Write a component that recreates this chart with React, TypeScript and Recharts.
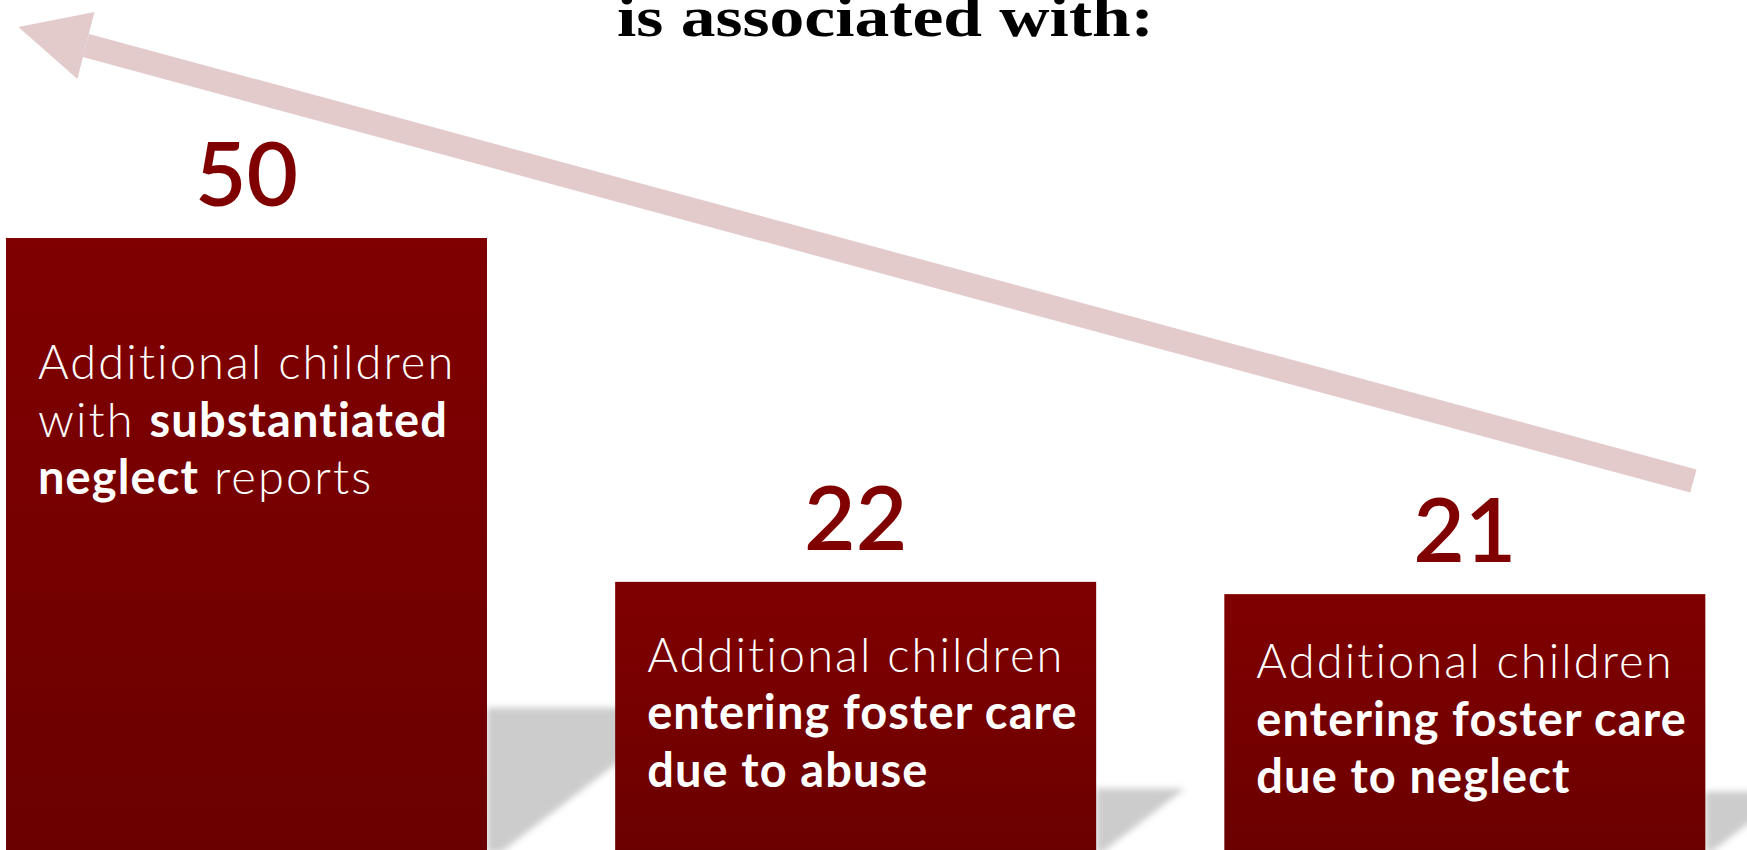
import { BarChart, Bar, XAxis, YAxis, LabelList, Customized } from 'recharts'

// values
const categories = ['Substantiated neglect reports', 'Foster care due to abuse', 'Foster care due to neglect']
const values = [50, 22, 21]
const descriptions = [
  ['Additional children', 'with **substantiated**', '**neglect** reports'],
  ['Additional children', '**entering foster care**', '**due to abuse**'],
  ['Additional children', '**entering foster care**', '**due to neglect**'],
]
const titleLine = 'is associated with:'

// layout
const PAGE_W = 1747
const PAGE_H = 850
const CHART_LEFT = -58.4
const CHART_W = 1827.5
const CHART_H = 852
const TEXT_TOP = [141, 90, 84]
const LINE_H = 57.5
const BODY_FONT = 'Lato, "Open Sans", sans-serif'

const data = categories.map((name, i) => ({ name, value: values[i], lines: descriptions[i], idx: i }))

function renderLine(line: string) {
  return line.split('**').map((part, j) =>
    part ? (
      <tspan key={j} fontWeight={j % 2 === 1 ? 700 : 300} letterSpacing={j % 2 === 1 ? 1.1 : 2.1}>
        {part}
      </tspan>
    ) : null
  )
}

function BarWithText(props: any) {
  const { x, y, width, height, payload } = props
  const base = y + height
  const right = x + width
  const s = height * 0.235
  const shadow = `${right},${base} ${right},${base - s} ${right + 1.4 * s},${base - s} ${right + 0.1 * s},${base}`
  const top = TEXT_TOP[payload.idx] ?? 90
  return (
    <g>
      <polygon points={shadow} fill="#CCCCCC" filter="url(#softShadow)" />
      <rect x={x} y={y} width={width} height={height} fill="url(#barFill)" />
      <text fill="#FFFFFF" fontFamily={BODY_FONT} fontSize={47}>
        {payload.lines.map((line: string, k: number) => (
          <tspan key={k} x={x + 32} y={y + top + k * LINE_H}>
            {renderLine(line)}
          </tspan>
        ))}
      </text>
    </g>
  )
}

// trend arrow + cut-off heading line, in page coordinates shifted into the chart
function Decor() {
  const sx = (v: number) => v - CHART_LEFT
  const tail = [1693, 481]
  const headBase = [85.5, 45.5]
  const dx = headBase[0] - tail[0]
  const dy = headBase[1] - tail[1]
  const len = Math.hypot(dx, dy)
  const nx = (-dy / len) * 12
  const ny = (dx / len) * 12
  const shaft = [
    [tail[0] + nx, tail[1] + ny],
    [headBase[0] + nx, headBase[1] + ny],
    [headBase[0] - nx, headBase[1] - ny],
    [tail[0] - nx, tail[1] - ny],
  ]
  const head = [[18, 27], [94, 12], [77, 79]]
  const pts = (arr: number[][]) => arr.map(p => `${sx(p[0])},${p[1]}`).join(' ')
  return (
    <g>
      <polygon points={pts(shaft)} fill="#E3CACB" />
      <polygon points={pts(head)} fill="#E3CACB" />
      <text
        x={sx(885)}
        y={36}
        textAnchor="middle"
        fontFamily='"Liberation Serif", "DejaVu Serif", serif'
        fontWeight={700}
        fontSize={57}
        fill="#000000"
        textLength={537}
        lengthAdjust="spacingAndGlyphs"
      >
        {titleLine}
      </text>
    </g>
  )
}

export default function App() {
  return (
    <div style={{ position: 'fixed', left: 0, top: 0, width: PAGE_W, height: PAGE_H, overflow: 'hidden', background: '#FFFFFF' }}>
      <div style={{ position: 'absolute', left: CHART_LEFT, top: 0 }}>
        <BarChart width={CHART_W} height={CHART_H} data={data} margin={{ top: 238, right: 0, bottom: 0, left: 0 }}>
          <defs>
            <linearGradient id="barFill" x1="0" y1="0" x2="0" y2="1">
              <stop offset="0%" stopColor="#800000" />
              <stop offset="100%" stopColor="#6B0000" />
            </linearGradient>
            <filter id="softShadow" x="-30%" y="-30%" width="160%" height="160%">
              <feGaussianBlur stdDeviation="3" />
            </filter>
          </defs>
          <XAxis dataKey="name" hide />
          <YAxis hide domain={[0, 50]} />
          <Customized component={<Decor />} />
          <Bar dataKey="value" barSize={481} isAnimationActive={false} shape={<BarWithText />}>
            <LabelList
              dataKey="value"
              position="top"
              offset={32}
              fill="#800000"
              fontFamily={BODY_FONT}
              fontWeight={600}
              fontSize={89}
            />
          </Bar>
        </BarChart>
      </div>
    </div>
  )
}
